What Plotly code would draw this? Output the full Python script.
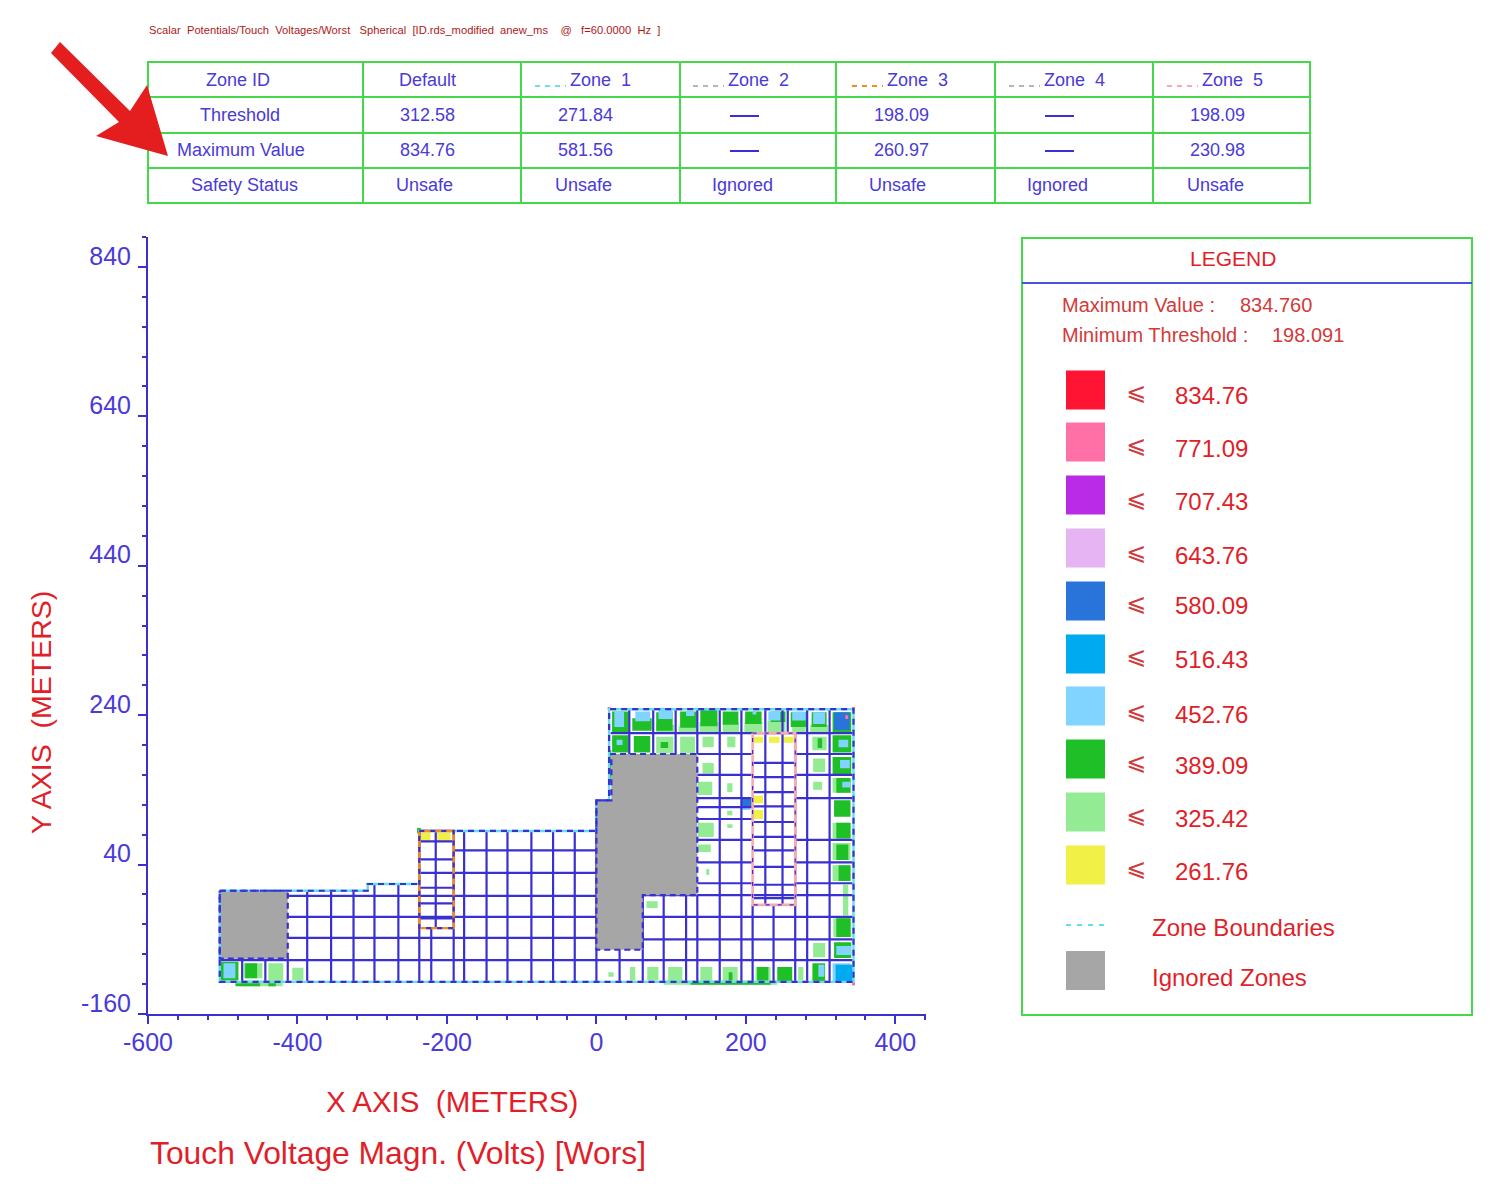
import plotly.graph_objects as go

W, H = 1504, 1187
BLUE = "#3A2FD0"
RED = "#E01F2A"
GREEN = "#44D84A"
FONT = "Liberation Sans"

# ---------- table data ----------
table_rows = ["Zone ID", "Threshold", "Maximum Value", "Safety Status"]
zone_ids = ["Default", "Zone  1", "Zone  2", "Zone  3", "Zone  4", "Zone  5"]
thresholds = ["312.58", "271.84", None, "198.09", None, "198.09"]
max_values = ["834.76", "581.56", None, "260.97", None, "230.98"]
statuses = ["Unsafe", "Unsafe", "Ignored", "Unsafe", "Ignored", "Unsafe"]
key_colors = [None, "#6FDCE8", "#B5B5B5", "#F58A1F", "#B5B5B5", "#F7AAB0"]

# ---------- legend data ----------
legend_values = ["834.76", "771.09", "707.43", "643.76", "580.09", "516.43", "452.76", "389.09", "325.42", "261.76"]
legend_colors = ["#FF1533", "#FF70A6", "#BA2BE8", "#E6B3F3", "#2874DA", "#00AAF0", "#80D4FF", "#1FBF27", "#93EC93", "#F0F046"]
GRAY = "#A6A6A6"

# ---------- axes ----------
x_major = [-600, -400, -200, 0, 200, 400]
y_major = [-160, 40, 240, 440, 640, 840]
x_minor = [-600, -560, -520, -480, -440, -400, -360, -320, -280, -240, -200, -160, -120, -80, -40, 0,
           40, 80, 120, 160, 200, 240, 280, 320, 360, 400, 440]
y_minor = [-160, -120, -80, -40, 0, 40, 80, 120, 160, 200, 240, 280, 320, 360, 400, 440, 480, 520,
           560, 600, 640, 680, 720, 760, 800, 840, 880]

# ---------- touch-voltage cells, metres: (x0, x1, y0, y1) ----------
light_green_cells = [
    (80,104,216,227),(110,134,216,225),(138,163,216,231),(169,191,216,231),(198,222,216,231),
    (229,253,216,233),(262,280,216,224),(286,310,216,227),
    (80,103,189,211),(112,132,189,211),(142,157,197,211),(175,186,197,211),(289,308,193,211),
    (142,157,162,176),(136,155,133,151),(175,182,137,149),(175,182,106,112),(175,182,89,94),
    (136,157,77,96),(136,153,57,67),(147,151,26,34),(67,82,-18,-9),
    (290,306,164,182),(290,302,140,151),(290,306,-84,-65),
    (316,340,136,156),(316,340,75,96),(316,340,46,69),(316,340,18,39),(330,337,-28,13),(317,341,-57,-32),
    (16,23,-110,-104),(45,52,-115,-97),(68,83,-115,-97),(96,115,-115,-97),(139,155,-115,-97),
    (169,189,-115,-97),(213,233,-115,-97),(270,277,-115,-97),(90,242,-121,-115),
    (-472,-447,-112,-92),(-439,-419,-117,-92),(-407,-392,-115,-98),(-476,-420,-123,-115),
]
green_cells = [
    (21,43,216,245),(48,74,219,236),(80,102,219,244),(112,134,223,245),(139,162,225,247),
    (169,190,227,245),(199,221,228,245),(233,253,231,245),(260,281,224,244),(288,308,224,244),(316,341,216,244),
    (21,43,190,213),(50,72,190,212),(86,96,196,204),(296,302,196,209),(316,341,190,213),
    (316,341,160,184),(321,340,136,156),(318,340,104,126),(321,340,75,96),(321,337,46,67),
    (324,340,18,39),(321,340,-57,-32),(318,341,-85,-64),
    (289,306,-116,-92),(177,182,-115,-104),(215,230,-115,-97),(242,262,-116,-97),(126,233,-121,-117),
    (16,20,149,193),(-240,-235,82,89),
    (-503,-479,-115,-90),(-470,-454,-112,-92),(-483,-450,-123,-119),(-439,-429,-123,-119),
]
light_blue_cells = [
    (24,37,224,245),(52,72,232,245),(83,102,235,247),(120,131,239,245),(209,214,241,245),
    (230,246,233,245),(262,280,233,245),(290,306,228,244),(27,35,200,207),(324,337,197,207),
    (326,339,169,180),(329,340,143,151),(321,341,-81,-69),(297,305,-110,-94),(316,340,-116,-92),
    (195,206,113,117),(-499,-483,-112,-92),
]
cyan_cells = [(320,343,-117,-94)]
blue_cells = [(318,339,220,244),(194,209,117,128)]
yellow_cells = [
    (210,223,203,211),(231,245,203,211),(250,264,203,211),(210,223,122,132),(210,223,101,113),
    (-235,-222,70,83),(-213,-195,71,83),
]
pink_cells = [(333,337,235,240),(15,19,247,251),(342,346,247,251),(342,346,-122,-117)]

# ---------- conductor grid, metres: (position, start, end) ----------
vertical_runs = [
    (-387,5,-117),(-355,5,-117),(-325,5,-117),(-297,14,-117),(-265,14,-117),
    (-474,-86,-117),(-443,-86,-117),(-413,-86,-117),
    (-237,85,-117),(-221,-45,-117),(-215,85,-45),(-191,85,-117),
    (-177,85,-117),(-147,85,-117),(-119,85,-117),(-87,85,-117),(-58,85,-117),(-29,85,-117),(0,85,-117),
    (44,248,188),(76,248,188),(106,248,188),(135,248,188),(135,-1,-117),
    (165,248,-117),(194,248,-117),(209,-14,-117),(226,248,-14),(249,248,-14),(237,-14,-117),
    (256,248,216),(266,216,-117),(282,248,-117),(312,248,-117),
    (31,-74,-117),(62,-1,-117),(90,-1,-117),(120,-1,-117),
]
horizontal_runs = [
    (59,-191,0),(29,-191,0),(-2,-413,0),(-30,-413,0),(-58,-413,0),(-88,-504,343),
    (71,-237,-191),(47,-237,-191),(29,-237,-191),(9,-237,-191),(-12,-237,-191),(-32,-237,-191),
    (216,19,343),
    (188,135,209),(160,135,209),(129,135,209),(117,135,209),(101,135,209),(73,135,209),(43,135,209),(15,135,209),
    (188,266,343),(160,266,343),(129,266,343),(73,266,343),(43,266,343),(15,266,343),
    (-1,62,343),(-30,62,343),(-60,62,343),
    (176,209,266),(157,209,266),(137,209,266),(118,209,266),(97,209,266),(77,209,266),
    (59,209,266),(37,209,266),(13,209,266),(-5,209,266),
]

# ---------- zone outlines, metres ----------
zone1_x = [-504,-306,-306,-237,-237,0,0,17,17,344,344,-504,-504]
zone1_y = [5,5,14,14,85,85,126,126,248,248,-117,-117,5]
zone2_x = [-504,-413,-413,-504,-504]
zone2_y = [5,5,-86,-86,5]
zone3_x = [-237,-191,-191,-237,-237]
zone3_y = [85,85,-45,-45,85]
zone4_x = [0,20,20,135,135,62,62,0,0]
zone4_y = [126,126,188,188,-1,-1,-74,-74,126]
zone5_x = [209,266,266,209,209]
zone5_y = [216,216,-14,-14,216]


def px(x):
    return x / W


def py(y):
    return 1 - y / H


fig = go.Figure()


def add_cells(cells, color):
    xs, ys = [], []
    for x0, x1, y0, y1 in cells:
        xs += [x0, x1, x1, x0, x0, None]
        ys += [y0, y0, y1, y1, y0, None]
    fig.add_trace(go.Scatter(x=xs, y=ys, mode="lines", fill="toself", fillcolor=color,
                             line=dict(width=0, color=color), hoverinfo="skip", showlegend=False))


def add_line(xs, ys, color, width, dash="solid"):
    fig.add_trace(go.Scatter(x=xs, y=ys, mode="lines", line=dict(color=color, width=width, dash=dash),
                             hoverinfo="skip", showlegend=False))


add_cells(light_green_cells, "#93EC93")
add_cells(green_cells, "#1FBF27")
add_cells(light_blue_cells, "#80D4FF")
add_cells(cyan_cells, "#00AAF0")
add_cells(blue_cells, "#2874DA")
add_cells(yellow_cells, "#F0F046")
add_cells(pink_cells, "#FF70A6")

gx, gy = [], []
for x, a, b in vertical_runs:
    gx += [x, x, None]
    gy += [a, b, None]
for y, a, b in horizontal_runs:
    gx += [a, b, None]
    gy += [y, y, None]
add_line(gx, gy, BLUE, 2.2)

for zx, zy in ((zone2_x, zone2_y), (zone4_x, zone4_y)):
    fig.add_trace(go.Scatter(x=zx, y=zy, mode="lines", fill="toself", fillcolor=GRAY,
                             line=dict(width=0, color=GRAY), hoverinfo="skip", showlegend=False))

add_line(zone1_x, zone1_y, "#63DDEE", 2.4)
add_line(zone1_x, zone1_y, BLUE, 2.2, "6px,5px")
add_line(zone2_x, zone2_y, BLUE, 2.2, "6px,4px")
add_line(zone4_x, zone4_y, BLUE, 2.2, "6px,4px")
add_line(zone3_x, zone3_y, "#F58A1F", 2.4)
add_line(zone3_x, zone3_y, BLUE, 2.2, "5px,6px")
add_line(zone5_x, zone5_y, "#F7AAB0", 2.6)
add_line(zone5_x, zone5_y, BLUE, 1.2, "4px,8px")

shapes, annos = [], []


def rect(x0, y0, x1, y1, fill=None, line=None, lw=2):
    shapes.append(dict(type="rect", xref="paper", yref="paper", x0=px(x0), x1=px(x1), y0=py(y1), y1=py(y0),
                       fillcolor=fill if fill else "rgba(0,0,0,0)",
                       line=dict(color=line if line else "rgba(0,0,0,0)", width=lw if line else 0)))


def seg(x0, y0, x1, y1, color, lw=2, dash="solid"):
    shapes.append(dict(type="line", xref="paper", yref="paper", x0=px(x0), x1=px(x1), y0=py(y0), y1=py(y1),
                       line=dict(color=color, width=lw, dash=dash)))


def text(s, x, y, size, color, anchor="center", angle=0, family=FONT):
    # left-anchored annotations carry about 2px of built-in padding
    x = x - 2 if anchor == "left" else x
    annos.append(dict(text=s, x=px(x), y=py(y), xref="paper", yref="paper", showarrow=False,
                      xanchor=anchor, yanchor="middle", textangle=angle,
                      font=dict(family=family, size=size, color=color)))


# header text
text("Scalar  Potentials/Touch  Voltages/Worst   Spherical  [ID.rds_modified  anew_ms    @   f=60.0000  Hz  ]",
     149, 30, 11.2, "#B01818", "left")

# table
col_edges = [148, 363, 521, 680, 836, 995, 1153, 1310]
row_edges = [62, 97, 133, 168, 203]
rect(col_edges[0], row_edges[0], col_edges[-1], row_edges[-1], line=GREEN)
for c in col_edges[1:-1]:
    seg(c, row_edges[0], c, row_edges[-1], GREEN)
for r in row_edges[1:-1]:
    seg(col_edges[0], r, col_edges[-1], r, GREEN)

TXT = "#4A3AD8"
row_y = [80, 115, 150, 185]
label_x = [238, 240, 241, 244]
for name, lx, ry in zip(table_rows, label_x, row_y):
    text(name, lx, ry, 18, TXT)

header_x = [427, 570, 728, 887, 1044, 1202]
value_x = [427, 585, 744, 901, 1059, 1217]
status_x = [424, 583, 742, 897, 1057, 1215]
for i, z in enumerate(zone_ids):
    if key_colors[i]:
        text(z.replace("  ", "\u00a0\u00a0"), header_x[i], row_y[0], 18, TXT, "left")
        seg(header_x[i] - 35, 86, header_x[i] - 4, 86, key_colors[i], 2, "5px,5px")
    else:
        text(z, header_x[i], row_y[0], 18, TXT)
    for vals, ry in ((thresholds, row_y[1]), (max_values, row_y[2])):
        if vals[i]:
            text(vals[i], value_x[i], ry, 18, TXT)
        else:
            seg(value_x[i] - 14, ry + 1, value_x[i] + 15, ry + 1, BLUE, 2)
    text(statuses[i], status_x[i], row_y[3], 18, TXT)

# arrow
arrow = [(60, 42), (130, 111), (147, 85), (168, 156), (96, 136), (119, 122), (51, 53)]
shapes.append(dict(type="path", xref="paper", yref="paper",
                   path="M " + " L ".join(f"{px(a):.5f},{py(b):.5f}" for a, b in arrow) + " Z",
                   fillcolor="#E41E1E", line=dict(width=0)))

# legend box
rect(1022, 238, 1472, 1015, line=GREEN)
seg(1022, 283, 1472, 283, "#4A50E0", 2)
text("LEGEND", 1233, 259, 21, RED)
text("Maximum Value :", 1062, 305, 20, "#D23A3A", "left")
text("834.760", 1240, 305, 20, "#D23A3A", "left")
text("Minimum Threshold :", 1062, 335, 20, "#D23A3A", "left")
text("198.091", 1272, 335, 20, "#D23A3A", "left")
sw_y = [390, 442, 495, 548, 601, 654, 706, 759, 812, 865]
lab_y = [395, 448, 502, 555, 606, 659, 714, 765, 818, 871]
for c, v, sy, ly in zip(legend_colors, legend_values, sw_y, lab_y):
    rect(1066, sy - 19.5, 1105, sy + 19.5, fill=c)
    text("\u2a7d", 1136, ly - 3, 24, "#D23A3A", family="DejaVu Sans")
    text(v, 1175, ly, 24, RED, "left")
seg(1066, 925, 1108, 925, "#63DDEE", 2, "5px,6px")
text("Zone Boundaries", 1152, 927, 24, RED, "left")
rect(1066, 951, 1105, 990, fill=GRAY)
text("Ignored Zones", 1152, 977, 24, RED, "left")

# axis captions
text("Y AXIS  (METERS)", 41, 713, 28.5, RED, angle=-90)
text("X AXIS  (METERS)", 452, 1101, 29.5, RED)
text("Touch Voltage Magn. (Volts) [Wors]", 398, 1153, 31.8, RED)

axis_common = dict(showgrid=False, zeroline=False, showline=True, linecolor=BLUE, linewidth=2,
                   ticks="outside", ticklen=8, tickwidth=2, tickcolor=BLUE, automargin=False,
                   tickfont=dict(family=FONT, size=25, color=TXT), fixedrange=True)

fig.update_layout(
    width=W, height=H, autosize=False, margin=dict(l=0, r=0, t=0, b=0),
    paper_bgcolor="white", plot_bgcolor="white", showlegend=False,
    shapes=shapes, annotations=annos,
    xaxis=dict(domain=[148 / W, 926 / W], range=[-600, 441], tickmode="array", tickvals=x_major,
               ticktext=[str(v) for v in x_major], ticklabelstandoff=-3,
               minor=dict(tickmode="array", tickvals=x_minor, ticks="outside", ticklen=4, tickwidth=2, tickcolor=BLUE),
               **axis_common),
    yaxis=dict(domain=[1 - 1014 / H, 1 - 237 / H], range=[-160, 880], tickmode="array", tickvals=y_major,
               ticktext=[str(v) for v in y_major], ticklabelstandoff=2, ticklabelshift=-11,
               minor=dict(tickmode="array", tickvals=y_minor, ticks="outside", ticklen=4, tickwidth=2, tickcolor=BLUE),
               **axis_common),
)

fig.write_html("out.html", post_script="document.body.style.margin='0';document.body.style.overflow='hidden';",
               config=dict(displayModeBar=False))
